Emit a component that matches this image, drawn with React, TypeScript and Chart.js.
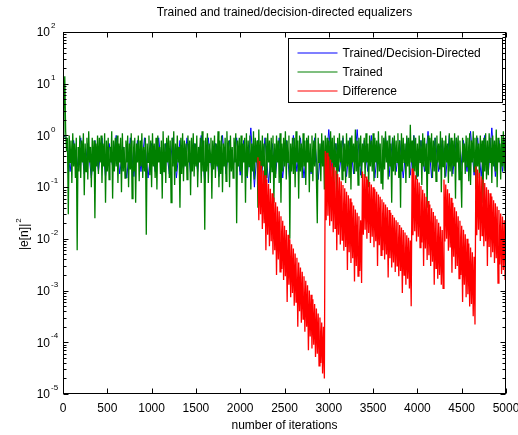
import React, { useEffect, useRef } from 'react';
import { Chart, registerables } from 'chart.js';

Chart.register(...registerables);

// ---------- text ----------
const TITLE = 'Trained and trained/decision-directed equalizers';
const X_LABEL = 'number of iterations';
const Y_LABEL = '|e[n]|';
const Y_LABEL_EXP = '2';
const SERIES_NAMES = ['Trained/Decision-Directed', 'Trained', 'Difference'];
const SERIES_COLORS = ['#0000ff', '#008000', '#ff0000'];

// ---------- axes ----------
const X_MIN = 0;
const X_MAX = 5000;
const X_TICKS = [0, 500, 1000, 1500, 2000, 2500, 3000, 3500, 4000, 4500, 5000];
const Y_MIN = 1e-5;
const Y_MAX = 1e2;
const Y_DECADES = [-5, -4, -3, -2, -1, 0, 1, 2];
const Y_MINOR_MANTISSAS = [2, 3, 4, 5, 6, 7, 8, 9];

// ---------- data ----------
// Trained/Decision-Directed |e[n]|^2, sampled every 40 iterations from 0
const DD_START = 0;
const DD_STEP = 40;
const trainedDD = [
  1.0, 0.9, 0.2, 0.8, 0.25, 0.9, 0.18, 0.7, 0.15, 0.8,
  0.2, 0.9, 0.16, 0.7, 0.25, 1.0, 0.18, 0.6, 0.15, 0.9,
  0.16, 0.8, 0.2, 0.9, 0.15, 0.7, 0.2, 0.9, 0.17, 0.7,
  0.18, 0.9, 0.15, 0.8, 0.22, 0.9, 0.18, 0.7, 0.2, 1.0,
  0.12, 0.9, 0.2, 0.7, 0.16, 1.0, 0.18, 0.8, 0.22, 0.9,
  0.17, 0.8, 0.15, 1.4, 0.1, 0.8, 0.15, 0.9, 0.12, 0.7,
  0.18, 0.9, 0.15, 0.8, 0.12, 1.0, 0.2, 0.9, 0.15, 0.8,
  0.18, 0.9, 0.14, 0.8, 0.2, 1.3, 0.17, 0.7, 0.2, 0.9,
  0.16, 0.9, 0.18, 1.3, 0.17, 0.8, 0.2, 1.0, 0.15, 0.8,
  0.18, 1.0, 0.16, 0.9, 0.2, 0.8, 0.15, 0.9, 0.17, 1.0,
  0.16, 0.8, 0.2, 1.2, 0.15, 0.9, 0.2, 0.8, 0.16, 1.0,
  0.18, 0.9, 0.15, 0.8, 0.2, 1.2, 0.17, 0.9, 0.16, 1.0,
  0.18, 1.4, 0.16, 0.8, 0.2, 1.2,
];

// Trained |e[n]|^2, sampled every 10 iterations from 0 (one row = 200 iterations)
const TR_START = 0;
const TR_STEP = 10;
const trained = [
  0.9, 3, 14, 1.2, 0.5, 0.9, 0.03, 1.0, 0.3, 0.8, 0.12, 1.1, 0.25, 0.7, 0.15, 0.9, 0.006, 0.6, 0.2, 1.0,
  0.15, 0.8, 0.3, 1.1, 0.07, 0.7, 0.2, 0.9, 0.14, 1.2, 0.3, 0.6, 0.1, 0.9, 0.2, 0.8, 0.025, 0.7, 0.25, 1.0,
  0.18, 0.9, 0.3, 1.0, 0.12, 0.7, 0.25, 1.1, 0.05, 0.8, 0.2, 0.9, 0.14, 0.6, 0.3, 1.2, 0.06, 0.8, 0.2, 0.9,
  0.25, 1.0, 0.12, 0.7, 0.3, 0.9, 0.08, 1.1, 0.2, 0.6, 0.15, 0.8, 0.3, 1.0, 0.1, 0.7, 0.22, 1.1, 0.06, 0.8,
  0.2, 0.9, 0.05, 0.7, 0.3, 1.0, 0.13, 0.8, 0.25, 1.1, 0.15, 0.6, 0.2, 0.9, 0.012, 0.7, 0.3, 1.0, 0.17, 0.8,
  0.1, 1.1, 0.25, 0.7, 0.15, 0.9, 0.09, 1.0, 0.3, 0.6, 0.18, 0.8, 0.06, 1.2, 0.2, 0.7, 0.12, 0.9, 0.3, 1.0,
  0.15, 0.8, 0.05, 0.9, 0.25, 1.2, 0.11, 0.7, 0.2, 1.0, 0.3, 0.6, 0.04, 0.9, 0.18, 1.1, 0.13, 0.8, 0.25, 0.7,
  0.14, 1.0, 0.3, 0.8, 0.07, 0.9, 0.2, 1.1, 0.16, 0.7, 0.25, 1.0, 0.1, 0.6, 0.3, 0.9, 0.12, 1.2, 0.2, 0.8,
  0.015, 0.9, 0.2, 1.1, 0.12, 0.7, 0.3, 0.9, 0.06, 0.8, 0.22, 1.0, 0.15, 0.7, 0.25, 1.2, 0.1, 0.8, 0.18, 1.0,
  0.08, 0.7, 0.25, 0.9, 0.13, 1.2, 0.3, 0.8, 0.1, 1.0, 0.2, 0.6, 0.15, 0.9, 0.3, 1.1, 0.02, 0.8, 0.25, 0.9,
  0.2, 1.0, 0.12, 0.7, 0.3, 0.9, 0.05, 1.1, 0.16, 0.8, 0.25, 1.0, 0.09, 0.7, 0.2, 1.2, 0.14, 0.9, 0.3, 0.8,
  0.04, 1.3, 0.2, 0.8, 0.1, 1.0, 0.25, 0.7, 0.07, 0.9, 0.15, 1.1, 0.3, 0.8, 0.12, 0.9, 0.2, 1.0, 0.05, 0.7,
  0.15, 1.0, 0.3, 0.8, 0.12, 1.1, 0.05, 0.7, 0.2, 0.9, 0.25, 1.2, 0.14, 0.8, 0.3, 1.0, 0.01, 0.7, 0.2, 0.9,
  0.18, 0.9, 0.1, 1.2, 0.3, 0.8, 0.06, 1.0, 0.2, 0.7, 0.15, 1.1, 0.25, 0.8, 0.11, 0.9, 0.3, 1.0, 0.08, 0.7,
  0.2, 1.0, 0.13, 0.8, 0.25, 1.1, 0.15, 0.02, 0.9, 0.3, 0.7, 0.13, 1.1, 0.25, 0.8, 0.09, 1.0, 0.2, 0.9, 0.15,
  0.8, 0.17, 1.2, 0.3, 0.9, 0.1, 1.0, 0.25, 0.7, 0.075, 0.9, 0.2, 1.1, 0.3, 0.8, 0.14, 1.0, 0.2, 0.7, 0.12,
  1.1, 0.25, 0.8, 0.15, 0.9, 0.09, 1.0, 0.3, 0.7, 0.18, 1.3, 0.2, 0.8, 0.11, 0.9, 0.25, 1.0, 0.15, 0.7, 0.3,
  0.9, 0.15, 1.1, 0.3, 0.7, 0.1, 1.0, 0.25, 0.8, 0.2, 1.1, 0.13, 0.9, 0.3, 0.8, 0.15, 1.2, 0.2, 0.7, 0.12,
  1.0, 0.09, 0.9, 0.22, 1.2, 0.3, 0.8, 0.14, 1.0, 0.25, 0.7, 0.05, 0.9, 0.2, 1.0, 0.17, 0.8, 0.3, 1.1, 0.15,
  0.8, 0.04, 1.1, 0.2, 0.9, 0.3, 0.7, 0.12, 1.0, 0.25, 0.9, 0.15, 1.6, 0.3, 0.8, 0.1, 1.0, 0.2, 0.9, 0.14,
  0.7, 0.16, 1.0, 0.3, 0.8, 0.11, 1.1, 0.25, 0.9, 0.2, 0.7, 0.04, 1.0, 0.18, 0.9, 0.3, 1.1, 0.15, 0.8, 0.2,
  0.9, 0.13, 1.0, 0.3, 0.7, 0.22, 1.2, 0.08, 0.9, 0.25, 0.8, 0.15, 1.0, 0.3, 0.7, 0.12, 1.1, 0.2, 0.9, 0.16,
  0.8, 0.25, 1.1, 0.06, 0.9, 0.3, 1.0, 0.14, 0.8, 0.2, 0.04, 0.9, 0.3, 0.7, 0.18, 1.0, 0.25, 0.9, 0.13, 1.1,
  0.11, 0.8, 0.3, 1.2, 0.2, 0.9, 0.09, 1.0, 0.25, 0.7, 0.15, 1.0, 0.3, 0.8, 0.05, 0.9, 0.2, 1.1, 0.14, 0.8,
  0.17, 1.1, 0.3, 0.9, 0.12, 1.0, 0.25, 0.8, 0.2, 1.3, 0.1, 0.9, 0.3, 0.7, 0.14, 1.0, 0.25, 1.2, 0.2, 0.9,
  0.3,
];

// Difference, sampled every 10 iterations from 2200
const DIFF_START = 2200;
const DIFF_STEP = 10;
const difference = [
  // 2200 - 2950
  0.38, 0.023, 0.32, 0.03, 0.26, 0.0155, 0.21, 0.02, 0.17, 0.006,
  0.14, 0.012, 0.115, 0.0072, 0.093, 0.009, 0.076, 0.005, 0.063, 0.006,
  0.051, 0.002, 0.042, 0.004, 0.034, 0.0023, 0.0275, 0.0026, 0.0224, 0.0016,
  0.018, 0.0019, 0.0148, 0.0006, 0.012, 0.0013, 0.0098, 0.00074, 0.0079, 0.0009,
  0.0065, 0.00051, 0.0052, 0.0006, 0.0043, 0.0002, 0.0035, 0.0004, 0.0028, 0.00024,
  0.0023, 0.00028, 0.0019, 0.00016, 0.00155, 0.0002, 0.00126, 7e-5, 0.001, 0.00013,
  0.00083, 7.6e-5, 0.00068, 9e-5, 0.00055, 5.2e-5, 0.00045, 6e-5, 0.00036, 3.5e-5,
  0.0003, 4e-5, 0.00024, 2.5e-5, 0.0002, 2e-5,
  // 2960 - 3370
  0.5, 0.023, 0.46, 0.028, 0.39, 0.018, 0.34, 0.022, 0.29, 0.0135,
  0.245, 0.016, 0.21, 0.006, 0.18, 0.012, 0.155, 0.0078, 0.13, 0.0095,
  0.11, 0.0059, 0.095, 0.007, 0.081, 0.0025, 0.07, 0.0055, 0.06, 0.0034,
  0.051, 0.0042, 0.044, 0.0015, 0.037, 0.003, 0.032, 0.0019, 0.0275, 0.0024,
  0.023, 0.0014,
  // 3380 - 3930
  0.2, 0.012, 0.18, 0.015, 0.16, 0.01, 0.14, 0.013, 0.126, 0.0083,
  0.112, 0.011, 0.1, 0.0069, 0.091, 0.009, 0.081, 0.003, 0.072, 0.0075,
  0.065, 0.0048, 0.058, 0.006, 0.051, 0.004, 0.046, 0.005, 0.041, 0.0018,
  0.036, 0.0042, 0.032, 0.0028, 0.029, 0.0035, 0.026, 0.0023, 0.023, 0.003,
  0.021, 0.0019, 0.0186, 0.0024, 0.0166, 0.0009, 0.0148, 0.002, 0.0132, 0.0013,
  0.0117, 0.0017, 0.0105, 0.0011, 0.0093, 0.0005,
  // 3940 - 4290
  0.23, 0.0117, 0.2, 0.014, 0.17, 0.0089, 0.144, 0.011, 0.123, 0.0068,
  0.105, 0.0085, 0.089, 0.003, 0.076, 0.0065, 0.065, 0.0039, 0.054, 0.0048,
  0.046, 0.003, 0.039, 0.0036, 0.033, 0.0013, 0.028, 0.0027, 0.024, 0.0017,
  0.0204, 0.002, 0.0174, 0.0013, 0.0148, 0.0011,
  // 4300 - 4650
  0.14, 0.0089, 0.112, 0.01, 0.091, 0.0059, 0.076, 0.0068, 0.062, 0.0022,
  0.05, 0.0045, 0.041, 0.0026, 0.034, 0.003, 0.0275, 0.0017, 0.0224, 0.002,
  0.018, 0.0006, 0.015, 0.0013, 0.0123, 0.00074, 0.01, 0.00085, 0.0081, 0.00049,
  0.0068, 0.00055, 0.0055, 0.00032, 0.0045, 0.00022,
  // 4660 - 5000
  0.25, 0.0117, 0.22, 0.015, 0.19, 0.0091, 0.16, 0.0115, 0.14, 0.0072,
  0.12, 0.009, 0.1, 0.003, 0.089, 0.007, 0.076, 0.0044, 0.066, 0.0055,
  0.056, 0.0034, 0.049, 0.0042, 0.042, 0.0014, 0.036, 0.0032, 0.031, 0.0021,
  0.027, 0.0025, 0.023, 0.0016, 0.02,
];

const toPoints = (vals: number[], start: number, step: number) =>
  vals.map((v, i) => ({ x: start + i * step, y: v }));

const FONT = '"Liberation Sans", Arial, Helvetica, sans-serif';

const matlabAxes = {
  id: 'matlabAxes',
  afterDraw(chart: any) {
    const ctx = chart.ctx as CanvasRenderingContext2D;
    const { left, right, top, bottom } = chart.chartArea;
    const xs = chart.scales.x;
    const ys = chart.scales.y;
    ctx.save();
    ctx.strokeStyle = '#000';
    ctx.fillStyle = '#000';
    ctx.lineWidth = 1;
    const L = Math.round(left) + 0.5;
    const R = Math.round(right) - 0.5;
    const T = Math.round(top) + 0.5;
    const B = Math.round(bottom) - 0.5;

    // ticks
    ctx.beginPath();
    X_TICKS.forEach((t) => {
      const px = Math.round(xs.getPixelForValue(t)) + 0.5;
      ctx.moveTo(px, B); ctx.lineTo(px, B - 5);
      ctx.moveTo(px, T); ctx.lineTo(px, T + 5);
    });
    Y_DECADES.forEach((e) => {
      const py = Math.round(ys.getPixelForValue(Math.pow(10, e))) + 0.5;
      ctx.moveTo(L, py); ctx.lineTo(L + 5, py);
      ctx.moveTo(R, py); ctx.lineTo(R - 5, py);
      if (e < Y_DECADES[Y_DECADES.length - 1]) {
        Y_MINOR_MANTISSAS.forEach((m) => {
          const pm = Math.round(ys.getPixelForValue(m * Math.pow(10, e))) + 0.5;
          ctx.moveTo(L, pm); ctx.lineTo(L + 3, pm);
          ctx.moveTo(R, pm); ctx.lineTo(R - 3, pm);
        });
      }
    });
    ctx.stroke();

    // frame
    ctx.strokeRect(L, T, R - L, B - T);

    // x tick labels
    ctx.font = `12px ${FONT}`;
    ctx.textAlign = 'center';
    ctx.textBaseline = 'middle';
    X_TICKS.forEach((t) => {
      ctx.fillText(String(t), xs.getPixelForValue(t), bottom + 15);
    });

    // y tick labels 10^e
    Y_DECADES.forEach((e) => {
      const py = ys.getPixelForValue(Math.pow(10, e));
      ctx.font = `12px ${FONT}`;
      ctx.textAlign = 'right';
      ctx.textBaseline = 'middle';
      ctx.fillText('10', left - 13, py + 1);
      ctx.font = `8px ${FONT}`;
      ctx.textAlign = 'left';
      ctx.fillText(String(e), left - 12, py - 6);
    });

    // title
    ctx.font = `12px ${FONT}`;
    ctx.textAlign = 'center';
    ctx.textBaseline = 'middle';
    ctx.fillText(TITLE, (left + right) / 2, 13);

    // x label
    ctx.fillText(X_LABEL, (left + right) / 2, bottom + 32);

    // y label (rotated)
    ctx.save();
    ctx.translate(25, 250);
    ctx.rotate(-Math.PI / 2);
    ctx.textAlign = 'left';
    ctx.textBaseline = 'middle';
    ctx.font = `12px ${FONT}`;
    ctx.fillText(Y_LABEL, 0, 0);
    const w = ctx.measureText(Y_LABEL).width;
    ctx.font = `8px ${FONT}`;
    ctx.fillText(Y_LABEL_EXP, w + 1, -6);
    ctx.restore();

    // legend
    const bw = 214, bh = 64;
    const bx = Math.round(right) - 4 - bw + 0.5;
    const by = Math.round(top) + 6 + 0.5;
    ctx.fillStyle = '#fff';
    ctx.fillRect(bx, by, bw, bh);
    ctx.strokeStyle = '#000';
    ctx.lineWidth = 1;
    ctx.strokeRect(bx, by, bw, bh);
    const rowsY = [14, 33.5, 52.5];
    SERIES_NAMES.forEach((name, i) => {
      const ly = Math.round(by + rowsY[i]);
      ctx.beginPath();
      ctx.strokeStyle = SERIES_COLORS[i];
      ctx.lineWidth = 1.2;
      ctx.moveTo(bx + 9, ly);
      ctx.lineTo(bx + 49, ly);
      ctx.stroke();
      ctx.fillStyle = '#000';
      ctx.font = `12px ${FONT}`;
      ctx.textAlign = 'left';
      ctx.textBaseline = 'middle';
      ctx.fillText(name, bx + 54, ly + 0.5);
    });
    ctx.restore();
  },
};

export default function App() {
  const ref = useRef<HTMLCanvasElement | null>(null);
  useEffect(() => {
    if (!ref.current) return;
    const chart = new Chart(ref.current, {
      type: 'line',
      data: {
        datasets: [
          {
            label: SERIES_NAMES[0],
            data: toPoints(trainedDD, DD_START, DD_STEP),
            borderColor: SERIES_COLORS[0],
            borderWidth: 1,
            pointRadius: 0,
            tension: 0,
            order: 2,
          },
          {
            label: SERIES_NAMES[1],
            data: toPoints(trained, TR_START, TR_STEP),
            borderColor: SERIES_COLORS[1],
            borderWidth: 1.3,
            pointRadius: 0,
            tension: 0,
            order: 1,
          },
          {
            label: SERIES_NAMES[2],
            data: toPoints(difference, DIFF_START, DIFF_STEP),
            borderColor: SERIES_COLORS[2],
            borderWidth: 1.3,
            pointRadius: 0,
            tension: 0,
            order: 0,
          },
        ],
      },
      options: {
        responsive: false,
        animation: false,
        events: [],
        layout: { padding: { top: 32, right: 12, left: 0, bottom: 0 } },
        plugins: {
          legend: { display: false },
          tooltip: { enabled: false },
          title: { display: false },
        },
        scales: {
          x: {
            type: 'linear',
            min: X_MIN,
            max: X_MAX,
            grid: { display: false },
            border: { display: false },
            ticks: { display: false, stepSize: 500 },
            afterFit: (s: any) => { s.height = 41; },
          },
          y: {
            type: 'logarithmic',
            min: Y_MIN,
            max: Y_MAX,
            grid: { display: false },
            border: { display: false },
            ticks: { display: false },
            afterFit: (s: any) => { s.width = 63; },
          },
        },
      },
      plugins: [matlabAxes],
    });
    return () => chart.destroy();
  }, []);
  return (
    <div style={{ position: 'absolute', left: 0, top: 0, width: 518, height: 435, background: '#fff' }}>
      <canvas ref={ref} width={518} height={435} />
    </div>
  );
}
